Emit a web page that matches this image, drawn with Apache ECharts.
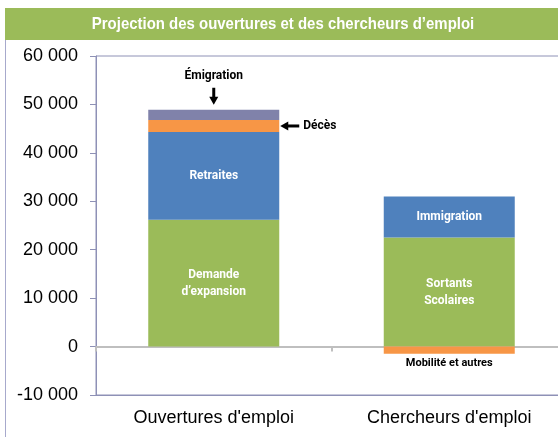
<!DOCTYPE html>
<html><head><meta charset="utf-8">
<script src="https://cdn.jsdelivr.net/npm/echarts@6/dist/echarts.min.js"></script>
<style>html,body{margin:0;padding:0;background:#fff}#c{width:558px;height:437px}</style>
</head><body><div id="c"></div>
<script>
// ---- data ----
const categories = ["Ouvertures d'emploi", "Chercheurs d'emploi"];
const baseValues = [26200, 22500];      // Demande d'expansion / Sortants scolaires
const secondValues = [18100, 8500];     // Retraites / Immigration
const thirdValues = [2500, -1500];      // Décès / Mobilité et autres
const topValues = [2100, null];         // Émigration
const baseNames = ["Demande\nd’expansion", "Sortants\nScolaires"];
const secondNames = ["Retraites", "Immigration"];
const thirdNames = ["Décès", "Mobilité et autres"];
const topNames = ["Émigration", ""];
const yMin = -10000, yMax = 60000, yInterval = 10000;
const titleText = "Projection des ouvertures et des chercheurs d’emploi";

const NARROW = "Roboto,'Liberation Sans',sans-serif";
const SANS = "'Liberation Sans',Arial,sans-serif";
const LAV = '#8E91B6';

function fmt(v){
  const s = String(Math.abs(v)).replace(/\B(?=(\d{3})+(?!\d))/g, ' ');
  return (v < 0 ? '-' : '') + s;
}

const chart = echarts.init(document.getElementById('c'), null, {renderer:'canvas'});
const BW = 131;
const insideLabel = {show:true, position:'inside', color:'#fff', fontWeight:'bold', fontSize:12, lineHeight:17, fontFamily:NARROW};

chart.setOption({
  animation:false,
  backgroundColor:'#fff',
  grid:{left:96, top:56, width:471, height:339, show:true, borderColor:LAV, borderWidth:1, backgroundColor:'transparent', containLabel:false, outerBoundsMode:'none'},
  xAxis:[
    {type:'category', data:categories, position:'bottom',
     axisLine:{show:true, onZero:false, lineStyle:{color:LAV, width:1}},
     axisTick:{show:false},
     axisLabel:{show:true, color:'#000', fontSize:18, fontFamily:SANS, margin:14, interval:0},
     splitLine:{show:false}},
    {type:'category', data:categories, position:'bottom',
     axisLine:{show:true, onZero:true, lineStyle:{color:'#BFBFBF', width:2}},
     axisTick:{show:true, length:5, lineStyle:{color:'#BFBFBF', width:2}},
     axisLabel:{show:false}, splitLine:{show:false}}
  ],
  yAxis:{type:'value', min:yMin, max:yMax, interval:yInterval,
    axisLine:{show:true, lineStyle:{color:LAV, width:1}},
    axisTick:{show:true, length:6, lineStyle:{color:LAV}},
    axisLabel:{color:'#000', fontSize:18, fontFamily:SANS, margin:18, formatter:fmt},
    splitLine:{show:false}},
  series:[
    {type:'bar', stack:'a', xAxisIndex:0, barWidth:BW, data:baseValues,
     itemStyle:{color:'#9BBB59'},
     label:Object.assign({}, insideLabel, {formatter:p=>baseNames[p.dataIndex]})},
    {type:'bar', stack:'a', xAxisIndex:0, barWidth:BW, data:secondValues,
     itemStyle:{color:'#4F81BD'},
     label:Object.assign({}, insideLabel, {formatter:p=>secondNames[p.dataIndex]})},
    {type:'bar', stack:'a', xAxisIndex:0, barWidth:BW,
     data:thirdValues.map((v,i)=> i===1 ? {value:v, label:{show:true, position:'bottom', distance:4, color:'#000', fontWeight:'bold', fontSize:11, fontFamily:NARROW, formatter:thirdNames[i]}} : v),
     itemStyle:{color:'#F79646'}, label:{show:false}},
    {type:'bar', stack:'a', xAxisIndex:0, barWidth:BW, data:topValues.map(v=>v===null?'-':v),
     itemStyle:{color:'#8082AA'}, label:{show:false}}
  ]
});

// annotations positioned from the chart's own scales
const g = [];
g.push({type:'rect', shape:{x:5.5, y:8.5, width:560, height:440}, style:{fill:null, stroke:'#A7A9CC', lineWidth:1}, z:0});
g.push({type:'rect', shape:{x:5, y:8, width:553, height:32}, style:{fill:'#9BBB59'}, z:1});
g.push({type:'text', x:283, y:24, scaleX:0.88, style:{text:titleText, fill:'#fff', font:'bold 17px '+SANS, align:'center', verticalAlign:'middle'}, z:2});

// Décès arrow
const decesY = baseValues[0] + secondValues[0] + thirdValues[0]/2;
const pD = chart.convertToPixel({xAxisIndex:0, yAxisIndex:0}, [0, decesY]);
const right0 = pD[0] + BW/2;
g.push({type:'line', shape:{x1:right0+8, y1:pD[1], x2:right0+20, y2:pD[1]}, style:{stroke:'#000', lineWidth:3}, z:5});
g.push({type:'polygon', shape:{points:[[right0+1,pD[1]],[right0+9,pD[1]-4.5],[right0+9,pD[1]+4.5]]}, style:{fill:'#000'}, z:5});
g.push({type:'text', x:right0+24, y:pD[1], style:{text:thirdNames[0], fill:'#000', font:'bold 12px '+NARROW, align:'left', verticalAlign:'middle'}, z:5});

// Émigration arrow
const emTop = baseValues[0] + secondValues[0] + thirdValues[0] + topValues[0];
const pE = chart.convertToPixel({xAxisIndex:0, yAxisIndex:0}, [0, emTop]);
g.push({type:'line', shape:{x1:pE[0], y1:pE[1]-22, x2:pE[0], y2:pE[1]-12}, style:{stroke:'#000', lineWidth:3}, z:5});
g.push({type:'polygon', shape:{points:[[pE[0],pE[1]-5],[pE[0]-4.5,pE[1]-13],[pE[0]+4.5,pE[1]-13]]}, style:{fill:'#000'}, z:5});
g.push({type:'text', x:pE[0], y:pE[1]-34, style:{text:topNames[0], fill:'#000', font:'bold 12px '+NARROW, align:'center', verticalAlign:'middle'}, z:5});

chart.setOption({graphic:g});
</script></body></html>
